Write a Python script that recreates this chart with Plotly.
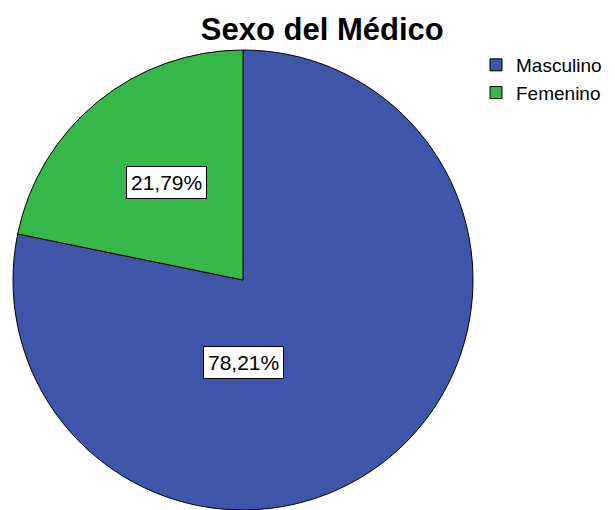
import plotly.graph_objects as go

labels = ["Masculino", "Femenino"]
values = [78.21, 21.79]
text_labels = ["78,21%", "21,79%"]
colors = ["#3e55a9", "#36b74a"]

# label box positions (paper coords) as used by the original chart
label_pos = {"Masculino": (0.5, 0.3196), "Femenino": (0.3337, 0.7109)}

fig = go.Figure(go.Pie(
    labels=labels,
    values=values,
    sort=False,
    direction="clockwise",
    rotation=0,
    marker=dict(colors=colors, line=dict(color="black", width=1)),
    textinfo="none",
    hoverinfo="label+percent",
))

annotations = []
for lab, txt in zip(labels, text_labels):
    x, y = label_pos[lab]
    annotations.append(dict(
        x=x, y=y, xref="paper", yref="paper", text=txt, showarrow=False,
        xanchor="center", yanchor="middle",
        font=dict(family="Arial, Liberation Sans", size=21, color="black"),
        bgcolor="white", bordercolor="black", borderwidth=1, borderpad=4,
    ))

fig.update_layout(
    width=615, height=510,
    margin=dict(l=13, r=142, t=50, b=0),
    paper_bgcolor="white", plot_bgcolor="white",
    title=dict(text="<b>Sexo del Médico</b>", x=0.524, xref="container", xanchor="center",
               y=1 - 29 / 510, yref="container", yanchor="middle",
               font=dict(family="Arial, Liberation Sans", size=31, color="black")),
    legend=dict(x=476 / 615, xref="container", y=1 - 46 / 510, yref="container",
                xanchor="left", yanchor="top",
                font=dict(family="Arial, Liberation Sans", size=19, color="black"),
                bgcolor="rgba(0,0,0,0)", itemwidth=30),
    annotations=annotations,
)

fig.write_html("out.html", config={"displayModeBar": False},
               post_script="document.body.style.margin='0';")
